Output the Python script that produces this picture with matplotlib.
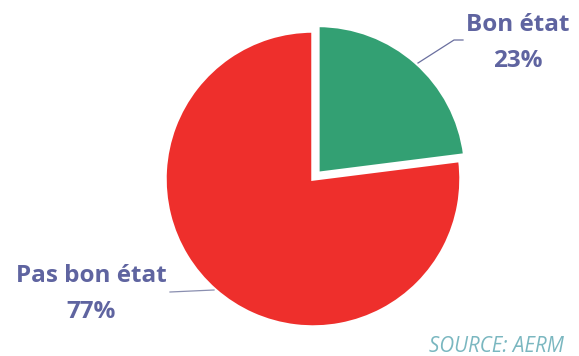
import matplotlib.pyplot as plt

# data
labels = ['Bon état', 'Pas bon état']
values = [23, 77]
colors = ['#33a073', '#ee2f2c']
explode = [0.05, 0]

W, H = 579, 356
fig = plt.figure(figsize=(W / 100, H / 100), dpi=100)
# pie centre (313,179) px, radius 148 px
cx, cy, r = 313, 179, 148
ax = fig.add_axes([(cx - r) / W, (H - cy - r) / H, 2 * r / W, 2 * r / H])

wedges, _ = ax.pie(values, colors=colors, explode=explode, startangle=90,
                   counterclock=False,
                   wedgeprops=dict(edgecolor='white', linewidth=2.5))
for w in wedges:
    w.set_clip_on(False)
ax.set_xlim(-1, 1)
ax.set_ylim(-1, 1)
ax.set_aspect('auto')
ax.axis('off')

lab_col = '#5f64a0'
font = 'Open Sans'

def px(x, y):
    return x / W, 1 - y / H

# Bon état label + leader
fig.text(*px(518, 43), f'{labels[0]}\n{values[0]}%', ha='center', va='center',
         fontsize=17.5, fontweight='bold', color=lab_col, family=font, linespacing=1.62)
fig.add_artist(plt.Line2D([418 / W, 454 / W, 463 / W],
                          [1 - 63 / H, 1 - 40 / H, 1 - 40 / H],
                          color='#6a6f9f', lw=0.9))

# Pas bon état label + leader
fig.text(*px(91, 294), f'{labels[1]}\n{values[1]}%', ha='center', va='center',
         fontsize=17.5, fontweight='bold', color=lab_col, family=font, linespacing=1.62)
fig.add_artist(plt.Line2D([170 / W, 214 / W], [1 - 292 / H, 1 - 290 / H],
                          color='#8a8fb0', lw=0.9))

fig.text(*px(496, 346), 'SOURCE: AERM', ha='center', va='center', fontsize=14.8,
         style='italic', color='#7ab7c0', family=font)

fig.savefig('out.png', dpi=100)
